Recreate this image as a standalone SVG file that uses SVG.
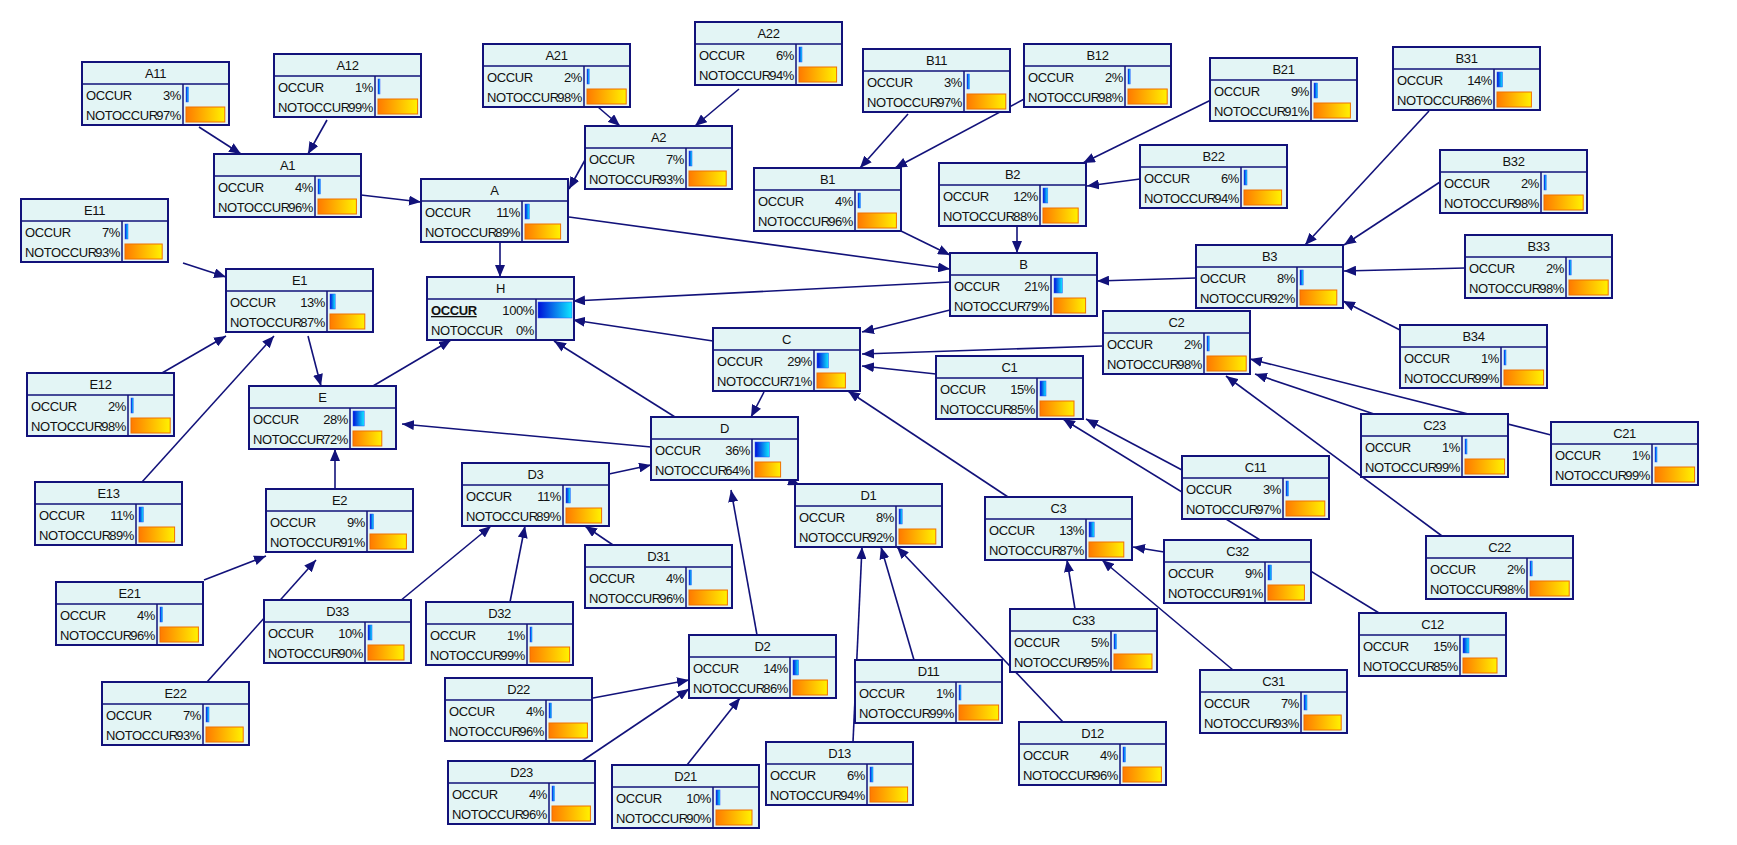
<svg xmlns="http://www.w3.org/2000/svg" width="1737" height="845" viewBox="0 0 1737 845">
<defs>
<linearGradient id="gb" x1="0" y1="0" x2="1" y2="0"><stop offset="0" stop-color="#0010d8"/><stop offset="1" stop-color="#10e8ff"/></linearGradient>
<linearGradient id="go" x1="0" y1="0" x2="1" y2="0"><stop offset="0" stop-color="#ff7a00"/><stop offset="1" stop-color="#fff200"/></linearGradient>
<marker id="ar" viewBox="0 0 12 10" refX="12" refY="5" markerWidth="12" markerHeight="10" markerUnits="userSpaceOnUse" orient="auto"><path d="M0 0L12 5L0 10z" fill="#12127a"/></marker>
<style>
.b{fill:#e3f5f5;stroke:#12127a;stroke-width:2}
.d{stroke:#12127a;stroke-width:1.5;fill:none}
text{font-family:"Liberation Sans",Arial,sans-serif;font-size:13px;fill:#111;letter-spacing:-0.4px}
.t{text-anchor:middle}
.r{text-anchor:end}
.o{fill:url(#gb);stroke:#3050ff;stroke-width:0.5}
.n{fill:url(#go);stroke:#f07000;stroke-width:1}
#edges line{stroke:#12127a;stroke-width:1.6;marker-end:url(#ar)}
</style>
</defs>
<rect width="1737" height="845" fill="#fff"/>
<g id="edges">
<line x1="199" y1="127" x2="241" y2="154"/>
<line x1="327" y1="120" x2="308" y2="154"/>
<line x1="598" y1="107" x2="620" y2="126"/>
<line x1="739" y1="89" x2="695" y2="126"/>
<line x1="361" y1="195" x2="421" y2="202"/>
<line x1="585" y1="160" x2="569" y2="189"/>
<line x1="500" y1="242" x2="500" y2="277"/>
<line x1="569" y1="217" x2="950" y2="269"/>
<line x1="908" y1="114" x2="860" y2="168"/>
<line x1="1028" y1="97" x2="895" y2="168"/>
<line x1="1211" y1="100" x2="1083" y2="163"/>
<line x1="1140" y1="179" x2="1087" y2="186"/>
<line x1="901" y1="231" x2="950" y2="255"/>
<line x1="1017" y1="227" x2="1017" y2="253"/>
<line x1="950" y1="282" x2="573" y2="301"/>
<line x1="1196" y1="278" x2="1097" y2="281"/>
<line x1="1429" y1="111" x2="1305" y2="245"/>
<line x1="1440" y1="182" x2="1344" y2="245"/>
<line x1="1465" y1="268" x2="1344" y2="271"/>
<line x1="1400" y1="330" x2="1343" y2="301"/>
<line x1="950" y1="310" x2="862" y2="332"/>
<line x1="713" y1="341" x2="573" y2="320"/>
<line x1="1103" y1="346" x2="862" y2="354"/>
<line x1="936" y1="374" x2="862" y2="366"/>
<line x1="764" y1="392" x2="751" y2="417"/>
<line x1="1551" y1="435" x2="1250" y2="359"/>
<line x1="1374" y1="414" x2="1255" y2="374"/>
<line x1="1442" y1="536" x2="1226" y2="376"/>
<line x1="1182" y1="470" x2="1086" y2="419"/>
<line x1="1379" y1="613" x2="1063" y2="419"/>
<line x1="1008" y1="497" x2="848" y2="391"/>
<line x1="1164" y1="552" x2="1133" y2="547"/>
<line x1="1075" y1="609" x2="1067" y2="560"/>
<line x1="1233" y1="670" x2="1102" y2="560"/>
<line x1="675" y1="417" x2="554" y2="341"/>
<line x1="651" y1="447" x2="402" y2="424"/>
<line x1="780" y1="477" x2="800" y2="485"/>
<line x1="609" y1="474" x2="651" y2="465"/>
<line x1="613" y1="545" x2="585" y2="526"/>
<line x1="510" y1="602" x2="525" y2="526"/>
<line x1="377" y1="620" x2="491" y2="526"/>
<line x1="757" y1="635" x2="731" y2="490"/>
<line x1="593" y1="698" x2="689" y2="680"/>
<line x1="582" y1="761" x2="689" y2="689"/>
<line x1="687" y1="765" x2="740" y2="698"/>
<line x1="914" y1="660" x2="881" y2="547"/>
<line x1="1063" y1="722" x2="897" y2="547"/>
<line x1="853" y1="742" x2="862" y2="547"/>
<line x1="183" y1="263" x2="226" y2="277"/>
<line x1="162" y1="373" x2="226" y2="336"/>
<line x1="142" y1="482" x2="274" y2="336"/>
<line x1="308" y1="336" x2="321" y2="386"/>
<line x1="335" y1="489" x2="335" y2="449"/>
<line x1="373" y1="386" x2="451" y2="340"/>
<line x1="204" y1="580" x2="266" y2="556"/>
<line x1="207" y1="682" x2="316" y2="560"/>
</g>
<g id="A11" transform="translate(82,62)"><rect class="b" width="147" height="63"/><path class="d" d="M0 22H147M101 22V63"/><text class="t" x="73.5" y="16">A11</text><text x="4" y="38">OCCUR</text><text class="r" x="99" y="38">3%</text><text x="4" y="58">NOTOCCUR</text><text class="r" x="99" y="58">97%</text><rect class="o" x="104" y="25" width="2.5" height="15"/><rect class="n" x="104" y="45" width="38.8" height="15"/></g>
<g id="A12" transform="translate(274,54)"><rect class="b" width="147" height="63"/><path class="d" d="M0 22H147M101 22V63"/><text class="t" x="73.5" y="16">A12</text><text x="4" y="38">OCCUR</text><text class="r" x="99" y="38">1%</text><text x="4" y="58">NOTOCCUR</text><text class="r" x="99" y="58">99%</text><rect class="o" x="104" y="25" width="2" height="15"/><rect class="n" x="104" y="45" width="39.6" height="15"/></g>
<g id="A21" transform="translate(483,44)"><rect class="b" width="147" height="63"/><path class="d" d="M0 22H147M101 22V63"/><text class="t" x="73.5" y="16">A21</text><text x="4" y="38">OCCUR</text><text class="r" x="99" y="38">2%</text><text x="4" y="58">NOTOCCUR</text><text class="r" x="99" y="58">98%</text><rect class="o" x="104" y="25" width="2.2" height="15"/><rect class="n" x="104" y="45" width="39.2" height="15"/></g>
<g id="A22" transform="translate(695,22)"><rect class="b" width="147" height="63"/><path class="d" d="M0 22H147M101 22V63"/><text class="t" x="73.5" y="16">A22</text><text x="4" y="38">OCCUR</text><text class="r" x="99" y="38">6%</text><text x="4" y="58">NOTOCCUR</text><text class="r" x="99" y="58">94%</text><rect class="o" x="104" y="25" width="3" height="15"/><rect class="n" x="104" y="45" width="37.6" height="15"/></g>
<g id="A1" transform="translate(214,154)"><rect class="b" width="147" height="63"/><path class="d" d="M0 22H147M101 22V63"/><text class="t" x="73.5" y="16">A1</text><text x="4" y="38">OCCUR</text><text class="r" x="99" y="38">4%</text><text x="4" y="58">NOTOCCUR</text><text class="r" x="99" y="58">96%</text><rect class="o" x="104" y="25" width="2.5" height="15"/><rect class="n" x="104" y="45" width="38.4" height="15"/></g>
<g id="A2" transform="translate(585,126)"><rect class="b" width="147" height="63"/><path class="d" d="M0 22H147M101 22V63"/><text class="t" x="73.5" y="16">A2</text><text x="4" y="38">OCCUR</text><text class="r" x="99" y="38">7%</text><text x="4" y="58">NOTOCCUR</text><text class="r" x="99" y="58">93%</text><rect class="o" x="104" y="25" width="3" height="15"/><rect class="n" x="104" y="45" width="37.2" height="15"/></g>
<g id="A" transform="translate(421,179)"><rect class="b" width="147" height="63"/><path class="d" d="M0 22H147M101 22V63"/><text class="t" x="73.5" y="16">A</text><text x="4" y="38">OCCUR</text><text class="r" x="99" y="38">11%</text><text x="4" y="58">NOTOCCUR</text><text class="r" x="99" y="58">89%</text><rect class="o" x="104" y="25" width="4.4" height="15"/><rect class="n" x="104" y="45" width="35.6" height="15"/></g>
<g id="B11" transform="translate(863,49)"><rect class="b" width="147" height="63"/><path class="d" d="M0 22H147M101 22V63"/><text class="t" x="73.5" y="16">B11</text><text x="4" y="38">OCCUR</text><text class="r" x="99" y="38">3%</text><text x="4" y="58">NOTOCCUR</text><text class="r" x="99" y="58">97%</text><rect class="o" x="104" y="25" width="2.5" height="15"/><rect class="n" x="104" y="45" width="38.8" height="15"/></g>
<g id="B12" transform="translate(1024,44)"><rect class="b" width="147" height="63"/><path class="d" d="M0 22H147M101 22V63"/><text class="t" x="73.5" y="16">B12</text><text x="4" y="38">OCCUR</text><text class="r" x="99" y="38">2%</text><text x="4" y="58">NOTOCCUR</text><text class="r" x="99" y="58">98%</text><rect class="o" x="104" y="25" width="2.2" height="15"/><rect class="n" x="104" y="45" width="39.2" height="15"/></g>
<g id="B21" transform="translate(1210,58)"><rect class="b" width="147" height="63"/><path class="d" d="M0 22H147M101 22V63"/><text class="t" x="73.5" y="16">B21</text><text x="4" y="38">OCCUR</text><text class="r" x="99" y="38">9%</text><text x="4" y="58">NOTOCCUR</text><text class="r" x="99" y="58">91%</text><rect class="o" x="104" y="25" width="3.6" height="15"/><rect class="n" x="104" y="45" width="36.4" height="15"/></g>
<g id="B31" transform="translate(1393,47)"><rect class="b" width="147" height="63"/><path class="d" d="M0 22H147M101 22V63"/><text class="t" x="73.5" y="16">B31</text><text x="4" y="38">OCCUR</text><text class="r" x="99" y="38">14%</text><text x="4" y="58">NOTOCCUR</text><text class="r" x="99" y="58">86%</text><rect class="o" x="104" y="25" width="5.6" height="15"/><rect class="n" x="104" y="45" width="34.4" height="15"/></g>
<g id="B1" transform="translate(754,168)"><rect class="b" width="147" height="63"/><path class="d" d="M0 22H147M101 22V63"/><text class="t" x="73.5" y="16">B1</text><text x="4" y="38">OCCUR</text><text class="r" x="99" y="38">4%</text><text x="4" y="58">NOTOCCUR</text><text class="r" x="99" y="58">96%</text><rect class="o" x="104" y="25" width="2.5" height="15"/><rect class="n" x="104" y="45" width="38.4" height="15"/></g>
<g id="B2" transform="translate(939,163)"><rect class="b" width="147" height="63"/><path class="d" d="M0 22H147M101 22V63"/><text class="t" x="73.5" y="16">B2</text><text x="4" y="38">OCCUR</text><text class="r" x="99" y="38">12%</text><text x="4" y="58">NOTOCCUR</text><text class="r" x="99" y="58">88%</text><rect class="o" x="104" y="25" width="4.8" height="15"/><rect class="n" x="104" y="45" width="35.2" height="15"/></g>
<g id="B22" transform="translate(1140,145)"><rect class="b" width="147" height="63"/><path class="d" d="M0 22H147M101 22V63"/><text class="t" x="73.5" y="16">B22</text><text x="4" y="38">OCCUR</text><text class="r" x="99" y="38">6%</text><text x="4" y="58">NOTOCCUR</text><text class="r" x="99" y="58">94%</text><rect class="o" x="104" y="25" width="3" height="15"/><rect class="n" x="104" y="45" width="37.6" height="15"/></g>
<g id="B32" transform="translate(1440,150)"><rect class="b" width="147" height="63"/><path class="d" d="M0 22H147M101 22V63"/><text class="t" x="73.5" y="16">B32</text><text x="4" y="38">OCCUR</text><text class="r" x="99" y="38">2%</text><text x="4" y="58">NOTOCCUR</text><text class="r" x="99" y="58">98%</text><rect class="o" x="104" y="25" width="2.2" height="15"/><rect class="n" x="104" y="45" width="39.2" height="15"/></g>
<g id="B" transform="translate(950,253)"><rect class="b" width="147" height="63"/><path class="d" d="M0 22H147M101 22V63"/><text class="t" x="73.5" y="16">B</text><text x="4" y="38">OCCUR</text><text class="r" x="99" y="38">21%</text><text x="4" y="58">NOTOCCUR</text><text class="r" x="99" y="58">79%</text><rect class="o" x="104" y="25" width="8.4" height="15"/><rect class="n" x="104" y="45" width="31.6" height="15"/></g>
<g id="B3" transform="translate(1196,245)"><rect class="b" width="147" height="63"/><path class="d" d="M0 22H147M101 22V63"/><text class="t" x="73.5" y="16">B3</text><text x="4" y="38">OCCUR</text><text class="r" x="99" y="38">8%</text><text x="4" y="58">NOTOCCUR</text><text class="r" x="99" y="58">92%</text><rect class="o" x="104" y="25" width="3.2" height="15"/><rect class="n" x="104" y="45" width="36.8" height="15"/></g>
<g id="B33" transform="translate(1465,235)"><rect class="b" width="147" height="63"/><path class="d" d="M0 22H147M101 22V63"/><text class="t" x="73.5" y="16">B33</text><text x="4" y="38">OCCUR</text><text class="r" x="99" y="38">2%</text><text x="4" y="58">NOTOCCUR</text><text class="r" x="99" y="58">98%</text><rect class="o" x="104" y="25" width="2.2" height="15"/><rect class="n" x="104" y="45" width="39.2" height="15"/></g>
<g id="B34" transform="translate(1400,325)"><rect class="b" width="147" height="63"/><path class="d" d="M0 22H147M101 22V63"/><text class="t" x="73.5" y="16">B34</text><text x="4" y="38">OCCUR</text><text class="r" x="99" y="38">1%</text><text x="4" y="58">NOTOCCUR</text><text class="r" x="99" y="58">99%</text><rect class="o" x="104" y="25" width="2" height="15"/><rect class="n" x="104" y="45" width="39.6" height="15"/></g>
<g id="H" transform="translate(427,277)"><rect class="b" width="147" height="63"/><path class="d" d="M0 22H147M109 22V63"/><text class="t" x="73.5" y="16">H</text><text x="4" y="38" font-weight="bold" text-decoration="underline">OCCUR</text><text class="r" x="107" y="38">100%</text><text x="4" y="58">NOTOCCUR</text><text class="r" x="107" y="58">0%</text><rect class="o" x="111" y="25" width="34" height="16"/></g>
<g id="E11" transform="translate(21,199)"><rect class="b" width="147" height="63"/><path class="d" d="M0 22H147M101 22V63"/><text class="t" x="73.5" y="16">E11</text><text x="4" y="38">OCCUR</text><text class="r" x="99" y="38">7%</text><text x="4" y="58">NOTOCCUR</text><text class="r" x="99" y="58">93%</text><rect class="o" x="104" y="25" width="3" height="15"/><rect class="n" x="104" y="45" width="37.2" height="15"/></g>
<g id="E1" transform="translate(226,269)"><rect class="b" width="147" height="63"/><path class="d" d="M0 22H147M101 22V63"/><text class="t" x="73.5" y="16">E1</text><text x="4" y="38">OCCUR</text><text class="r" x="99" y="38">13%</text><text x="4" y="58">NOTOCCUR</text><text class="r" x="99" y="58">87%</text><rect class="o" x="104" y="25" width="5.2" height="15"/><rect class="n" x="104" y="45" width="34.8" height="15"/></g>
<g id="E12" transform="translate(27,373)"><rect class="b" width="147" height="63"/><path class="d" d="M0 22H147M101 22V63"/><text class="t" x="73.5" y="16">E12</text><text x="4" y="38">OCCUR</text><text class="r" x="99" y="38">2%</text><text x="4" y="58">NOTOCCUR</text><text class="r" x="99" y="58">98%</text><rect class="o" x="104" y="25" width="2.2" height="15"/><rect class="n" x="104" y="45" width="39.2" height="15"/></g>
<g id="E" transform="translate(249,386)"><rect class="b" width="147" height="63"/><path class="d" d="M0 22H147M101 22V63"/><text class="t" x="73.5" y="16">E</text><text x="4" y="38">OCCUR</text><text class="r" x="99" y="38">28%</text><text x="4" y="58">NOTOCCUR</text><text class="r" x="99" y="58">72%</text><rect class="o" x="104" y="25" width="11.2" height="15"/><rect class="n" x="104" y="45" width="28.8" height="15"/></g>
<g id="E13" transform="translate(35,482)"><rect class="b" width="147" height="63"/><path class="d" d="M0 22H147M101 22V63"/><text class="t" x="73.5" y="16">E13</text><text x="4" y="38">OCCUR</text><text class="r" x="99" y="38">11%</text><text x="4" y="58">NOTOCCUR</text><text class="r" x="99" y="58">89%</text><rect class="o" x="104" y="25" width="4.4" height="15"/><rect class="n" x="104" y="45" width="35.6" height="15"/></g>
<g id="C" transform="translate(713,328)"><rect class="b" width="147" height="63"/><path class="d" d="M0 22H147M101 22V63"/><text class="t" x="73.5" y="16">C</text><text x="4" y="38">OCCUR</text><text class="r" x="99" y="38">29%</text><text x="4" y="58">NOTOCCUR</text><text class="r" x="99" y="58">71%</text><rect class="o" x="104" y="25" width="11.6" height="15"/><rect class="n" x="104" y="45" width="28.4" height="15"/></g>
<g id="C2" transform="translate(1103,311)"><rect class="b" width="147" height="63"/><path class="d" d="M0 22H147M101 22V63"/><text class="t" x="73.5" y="16">C2</text><text x="4" y="38">OCCUR</text><text class="r" x="99" y="38">2%</text><text x="4" y="58">NOTOCCUR</text><text class="r" x="99" y="58">98%</text><rect class="o" x="104" y="25" width="2.2" height="15"/><rect class="n" x="104" y="45" width="39.2" height="15"/></g>
<g id="C1" transform="translate(936,356)"><rect class="b" width="147" height="63"/><path class="d" d="M0 22H147M101 22V63"/><text class="t" x="73.5" y="16">C1</text><text x="4" y="38">OCCUR</text><text class="r" x="99" y="38">15%</text><text x="4" y="58">NOTOCCUR</text><text class="r" x="99" y="58">85%</text><rect class="o" x="104" y="25" width="6" height="15"/><rect class="n" x="104" y="45" width="34" height="15"/></g>
<g id="C23" transform="translate(1361,414)"><rect class="b" width="147" height="63"/><path class="d" d="M0 22H147M101 22V63"/><text class="t" x="73.5" y="16">C23</text><text x="4" y="38">OCCUR</text><text class="r" x="99" y="38">1%</text><text x="4" y="58">NOTOCCUR</text><text class="r" x="99" y="58">99%</text><rect class="o" x="104" y="25" width="2" height="15"/><rect class="n" x="104" y="45" width="39.6" height="15"/></g>
<g id="C21" transform="translate(1551,422)"><rect class="b" width="147" height="63"/><path class="d" d="M0 22H147M101 22V63"/><text class="t" x="73.5" y="16">C21</text><text x="4" y="38">OCCUR</text><text class="r" x="99" y="38">1%</text><text x="4" y="58">NOTOCCUR</text><text class="r" x="99" y="58">99%</text><rect class="o" x="104" y="25" width="2" height="15"/><rect class="n" x="104" y="45" width="39.6" height="15"/></g>
<g id="D" transform="translate(651,417)"><rect class="b" width="147" height="63"/><path class="d" d="M0 22H147M101 22V63"/><text class="t" x="73.5" y="16">D</text><text x="4" y="38">OCCUR</text><text class="r" x="99" y="38">36%</text><text x="4" y="58">NOTOCCUR</text><text class="r" x="99" y="58">64%</text><rect class="o" x="104" y="25" width="14.4" height="15"/><rect class="n" x="104" y="45" width="25.6" height="15"/></g>
<g id="D3" transform="translate(462,463)"><rect class="b" width="147" height="63"/><path class="d" d="M0 22H147M101 22V63"/><text class="t" x="73.5" y="16">D3</text><text x="4" y="38">OCCUR</text><text class="r" x="99" y="38">11%</text><text x="4" y="58">NOTOCCUR</text><text class="r" x="99" y="58">89%</text><rect class="o" x="104" y="25" width="4.4" height="15"/><rect class="n" x="104" y="45" width="35.6" height="15"/></g>
<g id="D31" transform="translate(585,545)"><rect class="b" width="147" height="63"/><path class="d" d="M0 22H147M101 22V63"/><text class="t" x="73.5" y="16">D31</text><text x="4" y="38">OCCUR</text><text class="r" x="99" y="38">4%</text><text x="4" y="58">NOTOCCUR</text><text class="r" x="99" y="58">96%</text><rect class="o" x="104" y="25" width="2.5" height="15"/><rect class="n" x="104" y="45" width="38.4" height="15"/></g>
<g id="D1" transform="translate(795,484)"><rect class="b" width="147" height="63"/><path class="d" d="M0 22H147M101 22V63"/><text class="t" x="73.5" y="16">D1</text><text x="4" y="38">OCCUR</text><text class="r" x="99" y="38">8%</text><text x="4" y="58">NOTOCCUR</text><text class="r" x="99" y="58">92%</text><rect class="o" x="104" y="25" width="3.2" height="15"/><rect class="n" x="104" y="45" width="36.8" height="15"/></g>
<g id="C11" transform="translate(1182,456)"><rect class="b" width="147" height="63"/><path class="d" d="M0 22H147M101 22V63"/><text class="t" x="73.5" y="16">C11</text><text x="4" y="38">OCCUR</text><text class="r" x="99" y="38">3%</text><text x="4" y="58">NOTOCCUR</text><text class="r" x="99" y="58">97%</text><rect class="o" x="104" y="25" width="2.5" height="15"/><rect class="n" x="104" y="45" width="38.8" height="15"/></g>
<g id="C3" transform="translate(985,497)"><rect class="b" width="147" height="63"/><path class="d" d="M0 22H147M101 22V63"/><text class="t" x="73.5" y="16">C3</text><text x="4" y="38">OCCUR</text><text class="r" x="99" y="38">13%</text><text x="4" y="58">NOTOCCUR</text><text class="r" x="99" y="58">87%</text><rect class="o" x="104" y="25" width="5.2" height="15"/><rect class="n" x="104" y="45" width="34.8" height="15"/></g>
<g id="C32" transform="translate(1164,540)"><rect class="b" width="147" height="63"/><path class="d" d="M0 22H147M101 22V63"/><text class="t" x="73.5" y="16">C32</text><text x="4" y="38">OCCUR</text><text class="r" x="99" y="38">9%</text><text x="4" y="58">NOTOCCUR</text><text class="r" x="99" y="58">91%</text><rect class="o" x="104" y="25" width="3.6" height="15"/><rect class="n" x="104" y="45" width="36.4" height="15"/></g>
<g id="C22" transform="translate(1426,536)"><rect class="b" width="147" height="63"/><path class="d" d="M0 22H147M101 22V63"/><text class="t" x="73.5" y="16">C22</text><text x="4" y="38">OCCUR</text><text class="r" x="99" y="38">2%</text><text x="4" y="58">NOTOCCUR</text><text class="r" x="99" y="58">98%</text><rect class="o" x="104" y="25" width="2.2" height="15"/><rect class="n" x="104" y="45" width="39.2" height="15"/></g>
<g id="C12" transform="translate(1359,613)"><rect class="b" width="147" height="63"/><path class="d" d="M0 22H147M101 22V63"/><text class="t" x="73.5" y="16">C12</text><text x="4" y="38">OCCUR</text><text class="r" x="99" y="38">15%</text><text x="4" y="58">NOTOCCUR</text><text class="r" x="99" y="58">85%</text><rect class="o" x="104" y="25" width="6" height="15"/><rect class="n" x="104" y="45" width="34" height="15"/></g>
<g id="E2" transform="translate(266,489)"><rect class="b" width="147" height="63"/><path class="d" d="M0 22H147M101 22V63"/><text class="t" x="73.5" y="16">E2</text><text x="4" y="38">OCCUR</text><text class="r" x="99" y="38">9%</text><text x="4" y="58">NOTOCCUR</text><text class="r" x="99" y="58">91%</text><rect class="o" x="104" y="25" width="3.6" height="15"/><rect class="n" x="104" y="45" width="36.4" height="15"/></g>
<g id="E21" transform="translate(56,582)"><rect class="b" width="147" height="63"/><path class="d" d="M0 22H147M101 22V63"/><text class="t" x="73.5" y="16">E21</text><text x="4" y="38">OCCUR</text><text class="r" x="99" y="38">4%</text><text x="4" y="58">NOTOCCUR</text><text class="r" x="99" y="58">96%</text><rect class="o" x="104" y="25" width="2.5" height="15"/><rect class="n" x="104" y="45" width="38.4" height="15"/></g>
<g id="D33" transform="translate(264,600)"><rect class="b" width="147" height="63"/><path class="d" d="M0 22H147M101 22V63"/><text class="t" x="73.5" y="16">D33</text><text x="4" y="38">OCCUR</text><text class="r" x="99" y="38">10%</text><text x="4" y="58">NOTOCCUR</text><text class="r" x="99" y="58">90%</text><rect class="o" x="104" y="25" width="4" height="15"/><rect class="n" x="104" y="45" width="36" height="15"/></g>
<g id="D32" transform="translate(426,602)"><rect class="b" width="147" height="63"/><path class="d" d="M0 22H147M101 22V63"/><text class="t" x="73.5" y="16">D32</text><text x="4" y="38">OCCUR</text><text class="r" x="99" y="38">1%</text><text x="4" y="58">NOTOCCUR</text><text class="r" x="99" y="58">99%</text><rect class="o" x="104" y="25" width="2" height="15"/><rect class="n" x="104" y="45" width="39.6" height="15"/></g>
<g id="D2" transform="translate(689,635)"><rect class="b" width="147" height="63"/><path class="d" d="M0 22H147M101 22V63"/><text class="t" x="73.5" y="16">D2</text><text x="4" y="38">OCCUR</text><text class="r" x="99" y="38">14%</text><text x="4" y="58">NOTOCCUR</text><text class="r" x="99" y="58">86%</text><rect class="o" x="104" y="25" width="5.6" height="15"/><rect class="n" x="104" y="45" width="34.4" height="15"/></g>
<g id="D22" transform="translate(445,678)"><rect class="b" width="147" height="63"/><path class="d" d="M0 22H147M101 22V63"/><text class="t" x="73.5" y="16">D22</text><text x="4" y="38">OCCUR</text><text class="r" x="99" y="38">4%</text><text x="4" y="58">NOTOCCUR</text><text class="r" x="99" y="58">96%</text><rect class="o" x="104" y="25" width="2.5" height="15"/><rect class="n" x="104" y="45" width="38.4" height="15"/></g>
<g id="E22" transform="translate(102,682)"><rect class="b" width="147" height="63"/><path class="d" d="M0 22H147M101 22V63"/><text class="t" x="73.5" y="16">E22</text><text x="4" y="38">OCCUR</text><text class="r" x="99" y="38">7%</text><text x="4" y="58">NOTOCCUR</text><text class="r" x="99" y="58">93%</text><rect class="o" x="104" y="25" width="3" height="15"/><rect class="n" x="104" y="45" width="37.2" height="15"/></g>
<g id="D11" transform="translate(855,660)"><rect class="b" width="147" height="63"/><path class="d" d="M0 22H147M101 22V63"/><text class="t" x="73.5" y="16">D11</text><text x="4" y="38">OCCUR</text><text class="r" x="99" y="38">1%</text><text x="4" y="58">NOTOCCUR</text><text class="r" x="99" y="58">99%</text><rect class="o" x="104" y="25" width="2" height="15"/><rect class="n" x="104" y="45" width="39.6" height="15"/></g>
<g id="C33" transform="translate(1010,609)"><rect class="b" width="147" height="63"/><path class="d" d="M0 22H147M101 22V63"/><text class="t" x="73.5" y="16">C33</text><text x="4" y="38">OCCUR</text><text class="r" x="99" y="38">5%</text><text x="4" y="58">NOTOCCUR</text><text class="r" x="99" y="58">95%</text><rect class="o" x="104" y="25" width="2.5" height="15"/><rect class="n" x="104" y="45" width="38" height="15"/></g>
<g id="C31" transform="translate(1200,670)"><rect class="b" width="147" height="63"/><path class="d" d="M0 22H147M101 22V63"/><text class="t" x="73.5" y="16">C31</text><text x="4" y="38">OCCUR</text><text class="r" x="99" y="38">7%</text><text x="4" y="58">NOTOCCUR</text><text class="r" x="99" y="58">93%</text><rect class="o" x="104" y="25" width="3" height="15"/><rect class="n" x="104" y="45" width="37.2" height="15"/></g>
<g id="D12" transform="translate(1019,722)"><rect class="b" width="147" height="63"/><path class="d" d="M0 22H147M101 22V63"/><text class="t" x="73.5" y="16">D12</text><text x="4" y="38">OCCUR</text><text class="r" x="99" y="38">4%</text><text x="4" y="58">NOTOCCUR</text><text class="r" x="99" y="58">96%</text><rect class="o" x="104" y="25" width="2.5" height="15"/><rect class="n" x="104" y="45" width="38.4" height="15"/></g>
<g id="D23" transform="translate(448,761)"><rect class="b" width="147" height="63"/><path class="d" d="M0 22H147M101 22V63"/><text class="t" x="73.5" y="16">D23</text><text x="4" y="38">OCCUR</text><text class="r" x="99" y="38">4%</text><text x="4" y="58">NOTOCCUR</text><text class="r" x="99" y="58">96%</text><rect class="o" x="104" y="25" width="2.5" height="15"/><rect class="n" x="104" y="45" width="38.4" height="15"/></g>
<g id="D21" transform="translate(612,765)"><rect class="b" width="147" height="63"/><path class="d" d="M0 22H147M101 22V63"/><text class="t" x="73.5" y="16">D21</text><text x="4" y="38">OCCUR</text><text class="r" x="99" y="38">10%</text><text x="4" y="58">NOTOCCUR</text><text class="r" x="99" y="58">90%</text><rect class="o" x="104" y="25" width="4" height="15"/><rect class="n" x="104" y="45" width="36" height="15"/></g>
<g id="D13" transform="translate(766,742)"><rect class="b" width="147" height="63"/><path class="d" d="M0 22H147M101 22V63"/><text class="t" x="73.5" y="16">D13</text><text x="4" y="38">OCCUR</text><text class="r" x="99" y="38">6%</text><text x="4" y="58">NOTOCCUR</text><text class="r" x="99" y="58">94%</text><rect class="o" x="104" y="25" width="3" height="15"/><rect class="n" x="104" y="45" width="37.6" height="15"/></g>
</svg>
